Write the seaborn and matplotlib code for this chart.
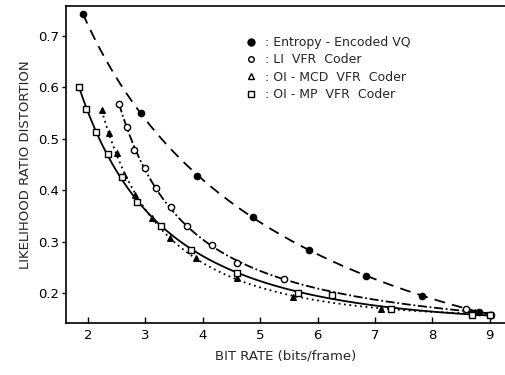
import numpy as np
import pandas as pd
import seaborn as sns
import matplotlib
matplotlib.use('Agg')
import matplotlib.pyplot as plt
from matplotlib.lines import Line2D

# values
vq_rate = [1.91, 2.92, 3.90, 4.87, 5.85, 6.84, 7.82, 8.81, 9.02]
vq_dist = [0.743, 0.550, 0.428, 0.348, 0.284, 0.233, 0.195, 0.163, 0.157]

l1_rate = [2.54, 2.68, 2.80, 2.99, 3.19, 3.44, 3.72, 4.16, 4.60, 5.41, 8.59, 9.0]
l1_dist = [0.568, 0.523, 0.478, 0.443, 0.404, 0.367, 0.330, 0.293, 0.258, 0.227,
           0.169, 0.157]

mcd_rate = [2.24, 2.37, 2.50, 2.62, 2.82, 3.11, 3.43, 3.89, 4.59, 5.57, 7.10,
            8.74, 9.0]
mcd_dist = [0.556, 0.511, 0.472, 0.430, 0.391, 0.345, 0.307, 0.268, 0.230,
            0.192, 0.169, 0.163, 0.157]

mp_rate = [1.84, 1.97, 2.14, 2.35, 2.59, 2.85, 3.28, 3.79, 4.59, 5.66, 6.25,
           7.28, 8.69, 9.0]
mp_dist = [0.601, 0.558, 0.513, 0.470, 0.426, 0.376, 0.331, 0.284, 0.239,
           0.199, 0.196, 0.169, 0.157, 0.157]

labels = [': Entropy - Encoded VQ', ': LI  VFR  Coder',
          ': OI - MCD  VFR  Coder', ': OI - MP  VFR  Coder']


def smooth(rate, dist, deg=3):
    """Smooth fitted curve through the points (log-log polynomial)."""
    lr, ld = np.log(rate), np.log(dist)
    coef = np.polyfit(lr, ld, deg)
    xs = np.linspace(min(rate), max(rate), 200)
    return pd.DataFrame({'rate': xs, 'dist': np.exp(np.polyval(coef, np.log(xs)))})


sns.set_style('white')
plt.rcParams['font.family'] = ['DejaVu Sans']

fig = plt.figure(figsize=(5.06, 3.75), dpi=100)
ax = fig.add_axes([66 / 506, 52 / 375, 440 / 506, 317 / 375])

series = [
    (vq_rate, vq_dist, (0, (6, 4)), 'o', 4.5, 'black', 4),
    (l1_rate, l1_dist, (0, (5, 1.5, 1, 1.5)), 'o', 4.5, 'white', 3),
    (mcd_rate, mcd_dist, (0, (1, 2)), '^', 4, 'black', 3),
    (mp_rate, mp_dist, '-', 's', 4, 'white', 3),
]
for rate, dist, ls, mk, ms, fc, deg in series:
    sns.lineplot(data=smooth(rate, dist, deg), x='rate', y='dist', ax=ax,
                 color='black', linewidth=1.3, linestyle=ls)
    df = pd.DataFrame({'rate': rate, 'dist': dist})
    sns.scatterplot(data=df, x='rate', y='dist', ax=ax, marker=mk, s=ms ** 2,
                    facecolor=fc, edgecolor='black', linewidth=1.0, zorder=3)

ax.set_xlim(1.617, 9.282)
ax.set_ylim(0.1416, 0.758)
ax.set_xticks([2, 3, 4, 5, 6, 7, 8, 9])
ax.set_yticks([0.2, 0.3, 0.4, 0.5, 0.6, 0.7])
ax.set_yticklabels(['0.2', '0.3', '0.4', '0.5', '0.6', '0.7'])
ax.tick_params(axis='x', direction='in', length=4, width=1, labelsize=9.5,
               pad=4, colors='black', bottom=True)
ax.tick_params(axis='y', direction='out', length=3, width=1, labelsize=9.5,
               pad=2, colors='black', left=True)
for side in ['left', 'bottom', 'top']:
    ax.spines[side].set_color('black')
    ax.spines[side].set_linewidth(1.2)
ax.spines['right'].set_visible(False)

ax.set_xlabel('BIT RATE (bits/frame)', fontsize=9.5, labelpad=6)
ax.set_ylabel('LIKELIHOOD RATIO DISTORTION', fontsize=9.5, labelpad=4)

handles = [
    Line2D([], [], linestyle='none', marker='o', markersize=5,
           color='black', markerfacecolor='black'),
    Line2D([], [], linestyle='none', marker='o', markersize=4,
           color='black', markerfacecolor='white'),
    Line2D([], [], linestyle='none', marker='^', markersize=4,
           color='black', markerfacecolor='white'),
    Line2D([], [], linestyle='none', marker='s', markersize=4,
           color='black', markerfacecolor='white'),
]
ax.legend(handles, labels, loc='upper left', bbox_to_anchor=(0.395, 0.925),
          frameon=False, fontsize=9, handlelength=0.8, handletextpad=0.7,
          labelspacing=0.35, borderpad=0)

fig.savefig('out.png', dpi=100)
